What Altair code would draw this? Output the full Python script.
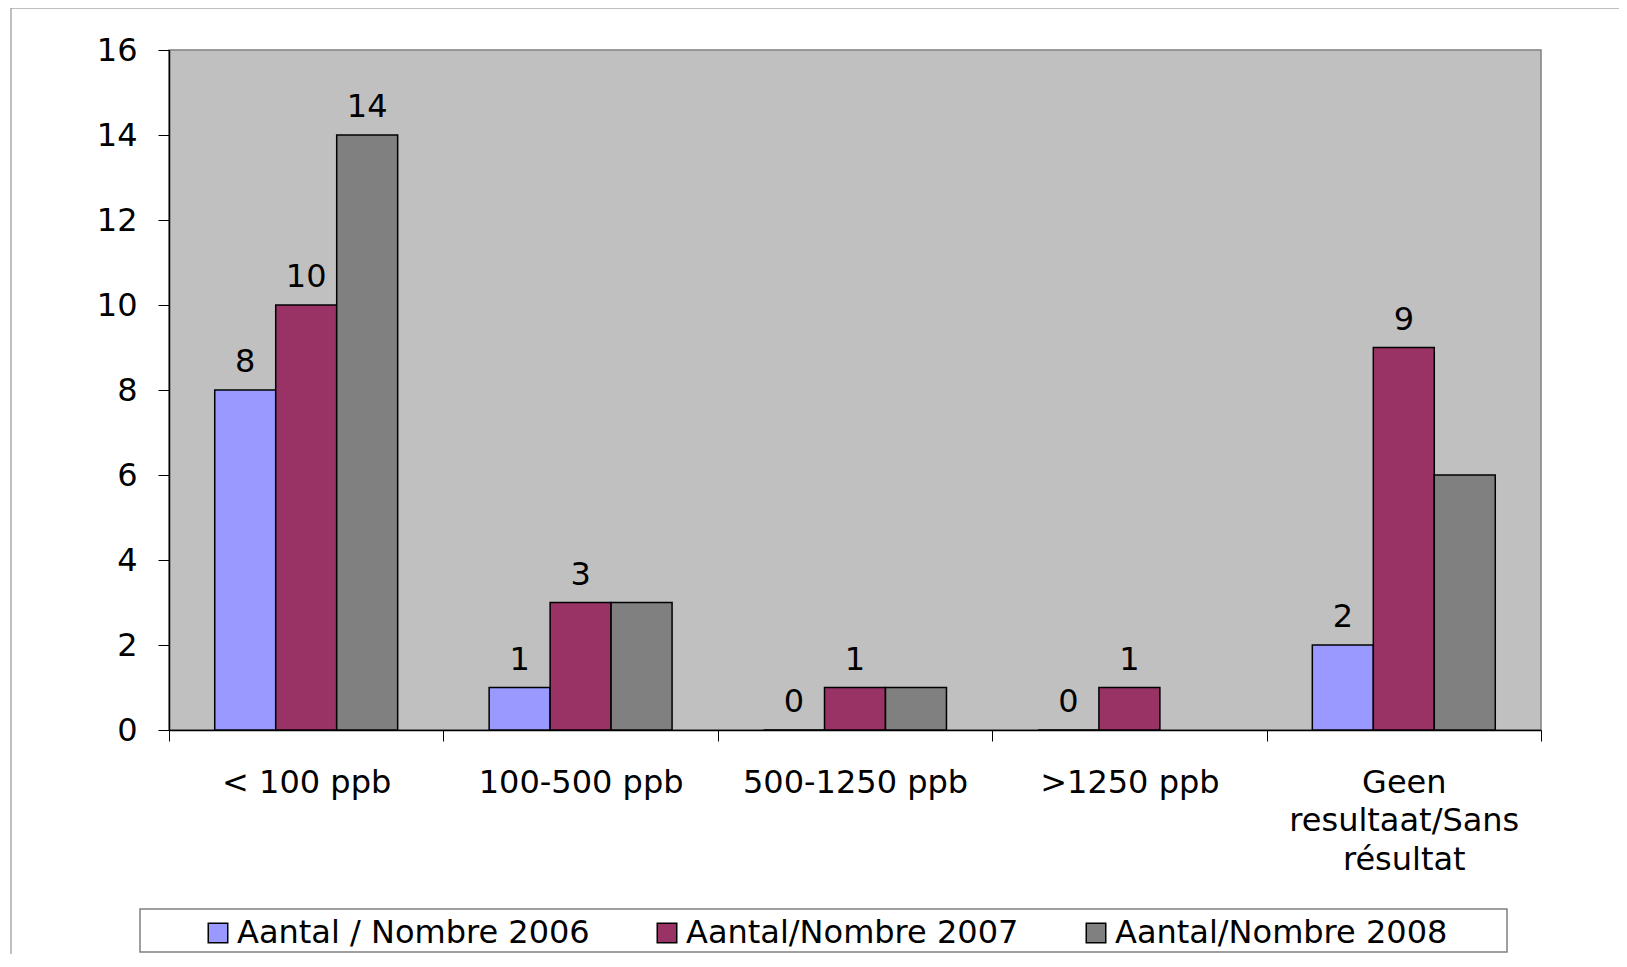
import altair as alt
import pandas as pd

categories = ["< 100 ppb", "100-500 ppb", "500-1250 ppb", ">1250 ppb", "Geen|resultaat/Sans|résultat"]
series = ["Aantal / Nombre 2006", "Aantal/Nombre 2007", "Aantal/Nombre 2008"]
values_2006 = [8, 1, 0, 0, 2]
values_2007 = [10, 3, 1, 1, 9]
values_2008 = [14, 3, 1, None, 6]
labels_2006 = ["8", "1", "0", "0", "2"]
labels_2007 = ["10", "3", "1", "1", "9"]
labels_2008 = ["14", "", "", "", ""]
colors = ["#9999FF", "#993366", "#808080"]
y_ticks = [0, 2, 4, 6, 8, 10, 12, 14, 16]

FONT = "DejaVu Sans"
FS = 32

rows = []
for s, vals, labs in zip(series, [values_2006, values_2007, values_2008],
                         [labels_2006, labels_2007, labels_2008]):
    for c, v, l in zip(categories, vals, labs):
        if v is None:
            continue
        rows.append({"cat": c, "series": s, "value": v, "label": l})
df = pd.DataFrame(rows)

x_enc = alt.X("cat:N", sort=categories,
              scale=alt.Scale(paddingInner=0, paddingOuter=0),
              axis=alt.Axis(title=None, labelAngle=0, tickBand="extent", tickSize=11,
                            tickColor="black", tickWidth=1, domainColor="black", domainWidth=1.5,
                            labelFont=FONT, labelFontSize=FS, labelColor="black",
                            labelPadding=26, labelLineHeight=38.5, labelLimit=500,
                            labelOverlap=False,
                            labelExpr="split(datum.label, '|')"))
xoff_enc = alt.XOffset("series:N", sort=series,
                       scale=alt.Scale(paddingInner=0, paddingOuter=0.75))
y_enc = alt.Y("value:Q", scale=alt.Scale(domain=[0, 16], nice=False),
              axis=alt.Axis(values=y_ticks, title=None, grid=False, tickSize=11,
                            tickColor="black", domainColor="black", domainWidth=1.5,
                            labelFont=FONT, labelFontSize=FS, labelColor="black",
                            labelPadding=21))

bars = alt.Chart(df).mark_bar(stroke="black", strokeWidth=1.5).encode(
    x=x_enc,
    xOffset=xoff_enc,
    y=y_enc,
    color=alt.Color("series:N", sort=series,
                    scale=alt.Scale(domain=series, range=colors),
                    legend=alt.Legend(orient="none", legendX=33, legendY=867,
                                      direction="horizontal", title=None,
                                      symbolType="square", symbolSize=380,
                                      symbolStrokeColor="black", symbolStrokeWidth=1.5,
                                      labelFont=FONT, labelFontSize=FS, labelColor="black",
                                      labelOffset=3, columnPadding=61, padding=0,
                                      labelLimit=600)),
)

text = alt.Chart(df).transform_filter("datum.label != ''").mark_text(
    baseline="alphabetic", dy=-18, font=FONT, fontSize=FS, color="black"
).encode(x=x_enc, xOffset=xoff_enc, y=y_enc, text="label:N")

one = pd.DataFrame({"k": [0]})
frame = alt.Chart(one).mark_rect(fill="white", fillOpacity=0, stroke="#808080", strokeWidth=1).encode(
    x=alt.value(-158), x2=alt.value(1480), y=alt.value(-42), y2=alt.value(940))
legend_box = alt.Chart(one).mark_rect(fill="white", fillOpacity=0, stroke="#808080", strokeWidth=1.5).encode(
    x=alt.value(-29), x2=alt.value(1338), y=alt.value(859), y2=alt.value(902))

chart = alt.layer(frame, legend_box, bars, text).properties(
    width=1372, height=680,
    autosize=alt.AutoSizeParams(type="none"),
    padding={"left": 161, "top": 42, "right": 78, "bottom": 224},
).configure_view(fill="#C0C0C0", stroke="#808080", strokeWidth=1.5)

chart.save("out.html", embed_options={"renderer": "svg", "actions": False})
